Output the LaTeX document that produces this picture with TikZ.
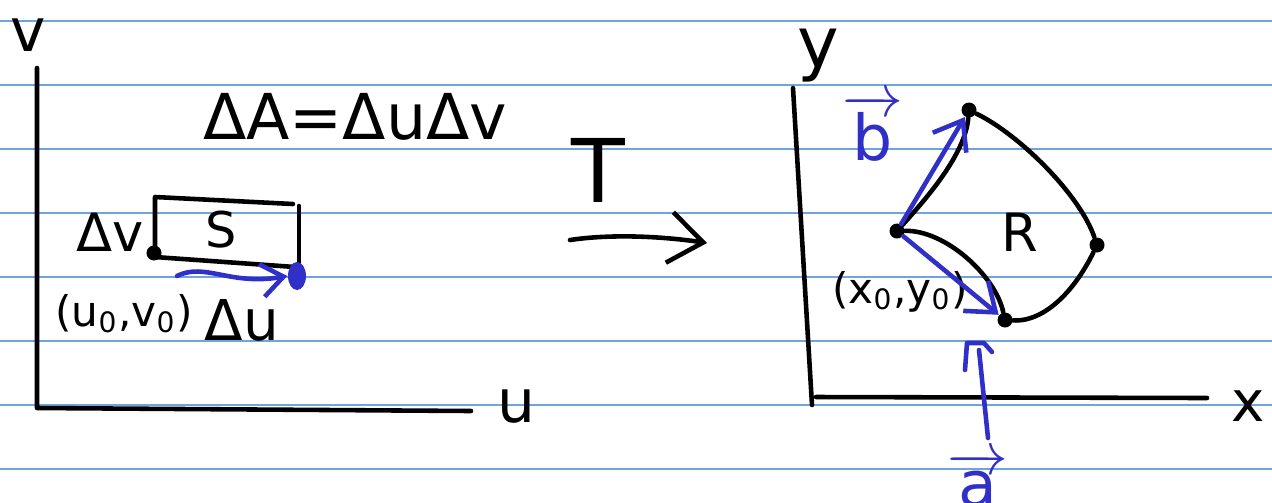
\documentclass[tikz,border=0pt]{standalone}
\usepackage{fontspec}
\setmainfont{DejaVu Sans}
\usetikzlibrary{arrows.meta,shapes.geometric}
\definecolor{ink}{RGB}{48,48,200}
\definecolor{ruling}{RGB}{110,165,225}

\begin{document}
\begin{tikzpicture}[
    x=0.01cm, y=-0.01cm,
    rule/.style={draw=ruling, line width=0.5pt},
    pen/.style={line width=1.3pt, line cap=round, line join=round},
    bluepen/.style={pen, draw=ink},
    dot/.style={circle, fill, inner sep=0pt, minimum size=1.5mm},
    lbl/.style={inner sep=0pt, font=\fontsize{#1}{#1}\selectfont},
    barb/.style={-{Straight Barb[length=#1, width=1.5*#1, line width=1.3pt]}}
  ]
  \useasboundingbox (0,0) rectangle (1272,502);
  \foreach \y in {21,85,149,213,277,341,405,469}
    \draw[rule] (0,\y) -- (1272,\y);

  % uv-plane
  \draw[pen] (37,68) -- (37,408) -- (471,411);
  \node[lbl=17] (vaxis) at (28,35) {v};
  \node[lbl=17] (uaxis) at (516,406) {u};
  \node[lbl=18] (area) at (355,117) {ΔA=ΔuΔv};

  \draw[pen] (155,256) -- (155,197) -- (293,204);
  \draw[pen] (299,206) -- (299,268);
  \draw[pen] (155,257) -- (295,267);
  \node[dot] (p0) at (154,253) {};
  \node[dot, ink, ellipse, minimum width=1.8mm, minimum height=2.8mm] (p1) at (297,276) {};
  \node[lbl=14] (S) at (221,230) {S};
  \node[lbl=15] (dv) at (110,232) {Δv};
  \node[lbl=12] (uv0) at (124,314) {(u\textsubscript{0},v\textsubscript{0})};
  \node[lbl=16] (du) at (242,320) {Δu};
  \coordinate (dustart) at (177,276);
  \draw[bluepen, barb=2.2mm] (dustart) .. controls (205,262) and (230,286) .. (p1.west);

  % the map T
  \node[lbl=25] (T) at (598,170) {T};
  \coordinate (tfrom) at (570,240);
  \coordinate (tto) at (707,243);
  \draw[pen, barb=3.4mm] (tfrom) .. controls (610,234) and (660,236) .. (tto);

  % xy-plane
  \draw[pen] (793,88) -- (812,405);
  \draw[pen] (816,397) -- (1207,398);
  \node[lbl=20] (yaxis) at (818,56) {y};
  \node[lbl=16] (xaxis) at (1248,406) {x};

  \node[dot] (qL) at (897,231) {};
  \node[dot] (qT) at (969,110) {};
  \node[dot] (qR) at (1097,245) {};
  \node[dot] (qB) at (1005,320) {};
  \draw[pen] (qL) .. controls (925,200) and (965,155) .. (qT);
  \draw[pen] (qT) .. controls (1020,135) and (1080,195) .. (qR);
  \draw[pen] (qR) .. controls (1075,290) and (1045,322) .. (qB);
  \draw[pen] (qL) .. controls (945,230) and (995,275) .. (qB);
  \node[lbl=15] (R) at (1020,232) {R};
  \node[lbl=12] (xy0) at (900,292) {(x\textsubscript{0},y\textsubscript{0})};

  \draw[bluepen, barb=2.6mm] (qL) -- (qT);
  \draw[bluepen, barb=2.6mm] (qL) -- (qB);
  \node[lbl=18, ink] (bvec) at (873,128) {$\overrightarrow{\mathrm{b}}$};
  \node[lbl=18, ink] (avec) at (978,480) {$\overrightarrow{\mathrm{a}}$};
  \coordinate (apoint) at (979,350);
  \draw[bluepen] (988,438) -- (apoint);
  \draw[bluepen] (965,370) -- (967,343) -- (984,343) -- (992,352);
\end{tikzpicture}
\end{document}
